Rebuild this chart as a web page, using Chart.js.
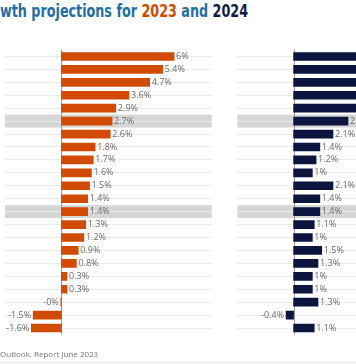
<!DOCTYPE html>
<html><head><meta charset="utf-8">
<script src="https://cdn.jsdelivr.net/npm/chart.js@4.4.1/dist/chart.umd.min.js"></script>
<style>
html,body{margin:0;padding:0;width:356px;height:364px;overflow:hidden;background:#fff;position:relative;}
#title{position:absolute;left:0;top:1px;white-space:nowrap;font:bold 18px 'Liberation Sans Narrow','DejaVu Sans Condensed',sans-serif;color:#1f6ea6;line-height:20px;transform-origin:0 50%;}
#title .y1{color:#d14b05;} #title .y2{color:#0d1a46;}
.panel{position:absolute;top:0;height:364px;width:230px;}
#p1{left:0;} #p2{left:232px;}
#foot{position:absolute;left:0;top:348px;font:8px 'Open Sans',sans-serif;color:#767676;white-space:nowrap;}
#band{position:absolute;left:0;top:361px;width:356px;height:3px;background:#f2f2f2;}
</style></head>
<body>
<div id="title">wth projections for <span class="y1">2023</span> and <span class="y2">2024</span></div>
<div class="panel" id="p1"><canvas id="c1"></canvas></div>
<div class="panel" id="p2"><canvas id="c2"></canvas></div>
<div id="foot">Outlook. Report June 2023</div>
<div id="band"></div>
<script>
const categories = ['India','China','Indonesia','Türkiye','Saudi Arabia','World','Mexico','Australia','Brazil','United States','Korea','Canada','OECD','Japan','Italy','Euro area','France','United Kingdom','South Africa','Germany','Russia','Argentina'];
const growth2023 = [6.0,5.4,4.7,3.6,2.9,2.7,2.6,1.8,1.7,1.6,1.5,1.4,1.4,1.3,1.2,0.9,0.8,0.3,0.3,-0.03,-1.5,-1.6];
const growth2024 = [7.0,5.1,5.1,3.7,3.5,2.9,2.1,1.4,1.2,1.0,2.1,1.4,1.4,1.1,1.0,1.5,1.3,1.0,1.0,1.3,-0.4,1.1];
const highlighted = ['World','OECD'];
const xMin = -3, xMax = 8;

(function(){ const t = document.getElementById('title'); const w = t.getBoundingClientRect().width;
  if (w > 0) t.style.transform = 'scaleX(' + (248 / w) + ')'; })();

function fmt(v){ const r = Math.round(Math.abs(v)*10)/10; return (v<0?'-':'') + r + '%'; }

const deco = {
  id:'deco',
  beforeDraw(chart){
    const {ctx, chartArea:a} = chart; const y = chart.scales.y;
    const pitch = y.getPixelForValue(1) - y.getPixelForValue(0);
    ctx.save(); ctx.fillStyle = '#d6d6d6';
    highlighted.forEach(h=>{ const i = categories.indexOf(h); if(i<0) return;
      const c = y.getPixelForValue(i); ctx.fillRect(a.left, c - pitch/2, a.right - a.left, pitch); });
    ctx.restore();
  },
  beforeDatasetsDraw(chart){
    const {ctx, chartArea:a} = chart; const x0 = Math.round(chart.scales.x.getPixelForValue(0)) + 0.5;
    ctx.save(); ctx.strokeStyle = '#9a9a9a'; ctx.lineWidth = 1;
    ctx.beginPath(); ctx.moveTo(x0, a.top); ctx.lineTo(x0, a.bottom); ctx.stroke(); ctx.restore();
  },
  afterDatasetsDraw(chart){
    const {ctx} = chart; const meta = chart.getDatasetMeta(0); const vals = chart.data.datasets[0].data;
    ctx.save(); ctx.font = '9px "Open Sans", sans-serif'; ctx.fillStyle = '#6a6a6a'; ctx.textBaseline = 'middle';
    meta.data.forEach((bar,i)=>{ const v = vals[i];
      if (v >= 0){ ctx.textAlign='left'; ctx.fillText(fmt(v), bar.x + 2, bar.y); }
      else { ctx.textAlign='right'; ctx.fillText(fmt(v), Math.min(bar.x, bar.base) - 2, bar.y); }
    });
    ctx.restore();
  }
};

function make(id, values, color, padLeft){
  return new Chart(document.getElementById(id), {
    type:'bar',
    data:{ labels: categories, datasets:[{ data: values, backgroundColor: color, barThickness: 8, borderWidth: 0 }] },
    options:{
      indexAxis:'y', responsive:true, maintainAspectRatio:false, animation:false,
      layout:{ padding:{ left: padLeft, top: 50, right: 18.3, bottom: 29.5 } },
      plugins:{ legend:{display:false}, tooltip:{enabled:false} },
      scales:{
        x:{ display:false, min:xMin, max:xMax },
        y:{ display:true, ticks:{display:false}, border:{display:false},
            grid:{ offset:false, drawTicks:false, color:'#ebebeb', lineWidth:1 } }
      }
    },
    plugins:[deco]
  });
}
make('c1', growth2023, '#d14b05', 5);
make('c2', growth2024, '#0b1540', 5.3);
</script>
</body></html>
